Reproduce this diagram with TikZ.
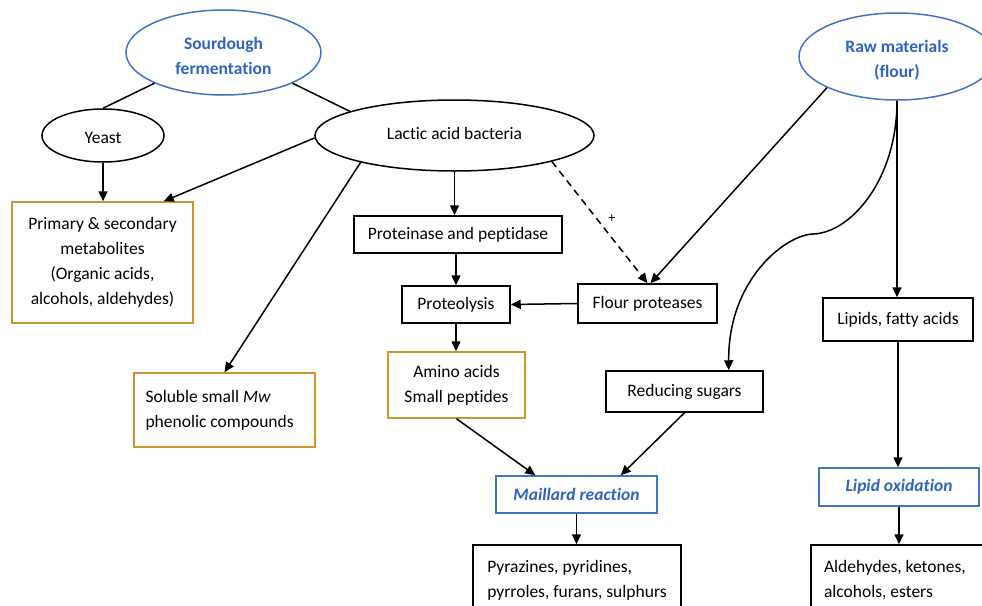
\documentclass[tikz,border=0pt]{standalone}
\usepackage{fontspec}
\setmainfont{Carlito}[Ligatures=NoCommon]
\usetikzlibrary{arrows.meta,shapes.geometric,calc}
\definecolor{mblue}{RGB}{47,100,192}
\definecolor{eblue}{RGB}{68,114,196}
\definecolor{morange}{RGB}{204,149,45}
\newcommand{\shiftt}[2]{\raisebox{#1}[\height][\depth]{#2}}
\begin{document}
\begin{tikzpicture}[x=1pt,y=-1pt,
  every node/.style={font=\fontsize{17.5}{25}\selectfont, inner sep=0pt},
  ell/.style={draw, ellipse, line width=1.5pt, align=center},
  bluell/.style={ell, draw=eblue, text=mblue, font=\fontsize{17.5}{25}\selectfont\bfseries},
  box/.style={draw, rectangle, line width=1.5pt, align=center},
  obox/.style={box, draw=morange},
  bbox/.style={box, draw=eblue, text=mblue, font=\fontsize{17.5}{25}\selectfont\bfseries\itshape},
  arr/.style={line width=1.5pt, -{Triangle[length=10pt,width=9pt]}},
  link/.style={line width=1.5pt}
]
\useasboundingbox (0,0) rectangle (982,605);
\fill[white] (0,0) rectangle (982,605);

% ellipses
\node[bluell, minimum width=195pt, minimum height=85pt] (sd) at (223.5,52.5) {\shiftt{-3pt}{Sourdough}\\\shiftt{-3pt}{fermentation}};
\node[ell, minimum width=122pt, minimum height=53pt] (yeast) at (103,135.5) {\shiftt{-2pt}{Yeast}};
\node[ell, minimum width=279pt, minimum height=71pt] (lab) at (454.5,135.5) {\shiftt{2pt}{Lactic acid bacteria}};
\node[bluell, minimum width=196pt, minimum height=87pt] (raw) at (897,56.5) {\shiftt{-4pt}{Raw materials}\\\shiftt{-4pt}{(flour)}};

% boxes
\node[obox, minimum width=181pt, minimum height=121pt] (primary) at (102.5,262.5) {Primary \& secondary\\metabolites\\(Organic acids,\\alcohols, aldehydes)};
\node[box, minimum width=208pt, minimum height=37pt] (prot) at (458,234.5) {Proteinase and peptidase};
\node[box, minimum width=108pt, minimum height=37pt] (pl) at (456,304.5) {Proteolysis};
\node[box, minimum width=139pt, minimum height=39pt] (fp) at (647.5,303.5) {Flour proteases};
\node[obox, minimum width=181pt, minimum height=74pt, align=flush left, text width=158pt] (sol) at (224.5,410) {Soluble small \textit{Mw}\\phenolic compounds};
\node[obox, minimum width=137pt, minimum height=66pt] (amino) at (456.5,385) {Amino acids\\Small peptides};
\node[box, minimum width=157pt, minimum height=41pt] (red) at (684.5,391.5) {Reducing sugars};
\node[box, minimum width=150pt, minimum height=43pt] (lip) at (898,319.5) {Lipids, fatty acids};
\node[bbox, minimum width=161pt, minimum height=37pt] (mai) at (576.5,494.5) {Maillard reaction};
\node[bbox, minimum width=160pt, minimum height=38pt] (lox) at (899,487) {Lipid oxidation};
\node[box, minimum width=208pt, minimum height=70pt, align=left] (pyr) at (577,580) {Pyrazines, pyridines,\\pyrroles, furans, sulphurs};
\node[box, minimum width=184pt, minimum height=70pt, align=flush left, text width=158pt] (ald) at (903,580) {Aldehydes, ketones,\\alcohols, esters};

% connectors
\draw[link] (sd.204) -- (yeast.north);
\draw[link] (sd.336) -- (lab.167);
\draw[arr] (yeast.south) -- (yeast.south |- primary.north);
\draw[arr] (lab.181) -- ([xshift=-30pt]primary.north east);
\draw[arr] (lab.196) -- (sol.north);
\draw[arr] (lab.south) -- (lab.south |- prot.north);
\draw[arr] (pl.north |- prot.south) -- (pl.north);
\draw[arr] (fp.west) -- (pl.east);
\draw[arr, dash pattern=on 7pt off 5pt] (lab.345) -- node[pos=0.47, xshift=15pt, font=\fontsize{14}{16}\selectfont]{+} (fp.north);
\draw[arr] (raw.204) -- ([xshift=3pt]fp.north);
\draw[arr] (raw.south) -- (raw.south |- lip.north);
\draw[arr] (raw.south) .. controls +(0,80) and (850,233) .. (813,234)
  .. controls (785,235) and (728,280) .. ([xshift=-35pt]red.north east);
\draw[arr] (pl.south) -- (pl.south |- amino.north);
\draw[arr] (amino.south) -- ([xshift=40pt]mai.north west);
\draw[arr] (red.south) -- ([xshift=-37pt]mai.north east);
\draw[arr] (mai.south) -- (mai.south |- pyr.north);
\draw[arr] (lip.south) -- (lip.south |- lox.north);
\draw[arr] (lox.south) -- (lox.south |- ald.north);
\end{tikzpicture}
\end{document}
